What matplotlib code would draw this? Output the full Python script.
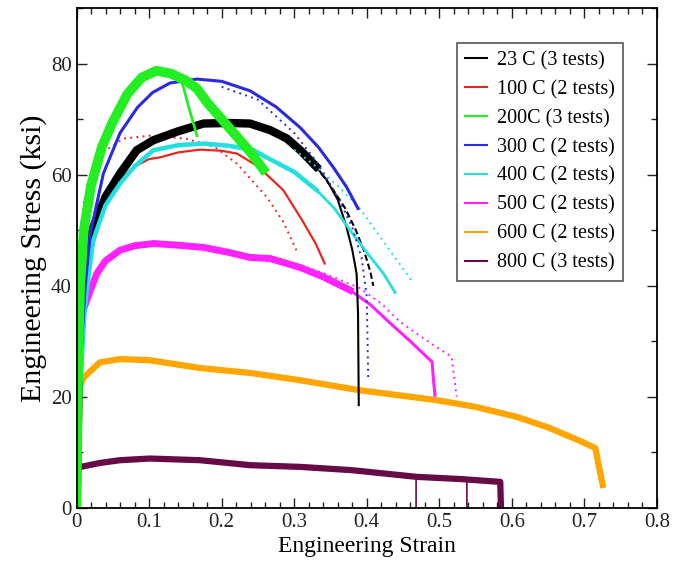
import matplotlib.pyplot as plt
from matplotlib.lines import Line2D
from matplotlib.ticker import MultipleLocator

plt.rcParams["font.family"] = ["Liberation Serif", "DejaVu Serif"]

# --- values (strain, stress in ksi) ---
# 23 C
c23_a_x = [0, 0.004, 0.012, 0.023, 0.04, 0.06, 0.083, 0.106, 0.14, 0.175, 0.21, 0.239, 0.267, 0.29, 0.31, 0.33]
c23_a_y = [0, 30, 43, 50.5, 56, 60.2, 64.4, 66.2, 67.8, 69.2, 69.3, 69.2, 68, 66.5, 64.2, 61.5]
c23_b_x = [0.31, 0.33, 0.345, 0.36, 0.372, 0.38, 0.386, 0.388, 0.389]
c23_b_y = [64.2, 61.5, 59, 55.5, 50.6, 46.5, 42.2, 35, 18.5]
c23_c_x = [0.31, 0.33, 0.35, 0.37, 0.385, 0.397, 0.405, 0.409]
c23_c_y = [64, 61.5, 58, 54, 50, 46, 42.5, 40]
# 100 C
c100_a_x = [0, 0.004, 0.01, 0.02, 0.035, 0.06, 0.075, 0.088, 0.1, 0.115, 0.14, 0.17, 0.2, 0.221, 0.25, 0.285, 0.31, 0.33, 0.342]
c100_a_y = [0, 22, 36, 46, 53, 59, 61, 62, 62.8, 63.1, 64, 64.5, 64.3, 63.8, 61.5, 57.2, 52, 47.5, 44]
c100_b_x = [0, 0.004, 0.01, 0.03, 0.065, 0.1, 0.15, 0.19, 0.221, 0.262, 0.285, 0.303]
c100_b_y = [0, 40, 55, 63.5, 66.5, 67, 66.5, 65, 62, 56, 51.5, 46.4]
# 200 C
c200_a_x = [0, 0.002, 0.005, 0.01, 0.02, 0.035, 0.05, 0.07, 0.09, 0.11, 0.13, 0.15, 0.166, 0.18, 0.21, 0.24, 0.257]
c200_a_y = [0, 25, 40, 50, 58, 65, 69.5, 74.5, 77.5, 78.7, 78.2, 77, 75.5, 73, 68.5, 64, 61]
c200_b_x = [0.13, 0.146, 0.155, 0.166]
c200_b_y = [78, 76.4, 72, 67]
# 300 C
c300_a_x = [0, 0.005, 0.012, 0.019, 0.037, 0.06, 0.084, 0.105, 0.129, 0.166, 0.2, 0.239, 0.275, 0.308, 0.333, 0.354, 0.372, 0.388]
c300_a_y = [0, 25, 40, 49.4, 60.2, 67.5, 72.1, 74.8, 76.5, 77.2, 76.8, 75.1, 72.2, 68.5, 65, 61.3, 57.8, 53.9]
c300_b_x = [0.2, 0.25, 0.3, 0.33, 0.36, 0.38, 0.393, 0.4, 0.402]
c300_b_y = [75.8, 73.5, 67.5, 62.5, 56, 50.5, 45, 38, 23.5]
# 400 C
c400_a_x = [0, 0.005, 0.012, 0.023, 0.04, 0.06, 0.08, 0.106, 0.14, 0.175, 0.21, 0.244, 0.262, 0.3, 0.331]
c400_a_y = [0, 22, 37, 48.2, 54.5, 58.4, 61.5, 64.4, 65.3, 65.6, 65.2, 64.4, 63.1, 60.5, 57.2]
c400_c_x = [0.3, 0.331, 0.355, 0.377, 0.4, 0.423, 0.439]
c400_c_y = [60.5, 57.2, 54, 50, 46, 42.2, 38.8]
c400_b_x = [0.3, 0.33, 0.36, 0.39, 0.42, 0.445, 0.464]
c400_b_y = [64.5, 61.5, 58, 54, 48.5, 44, 40.5]
# 500 C
c500_a_x = [0, 0.002, 0.008, 0.014, 0.028, 0.04, 0.06, 0.08, 0.106, 0.14, 0.175, 0.21, 0.239, 0.267, 0.308, 0.34, 0.377]
c500_a_y = [0, 31.5, 35, 37.4, 42.2, 44.5, 46.4, 47.2, 47.6, 47.3, 46.9, 46, 45.1, 44.9, 43.3, 41.6, 39.2]
c500_c_x = [0.34, 0.377, 0.405, 0.432, 0.46, 0.49, 0.492, 0.494]
c500_c_y = [41.6, 39.2, 36.6, 33.3, 30, 26.3, 23, 20.3]
c500_b_x = [0.3, 0.34, 0.39, 0.42, 0.446, 0.47, 0.49, 0.517, 0.52, 0.524]
c500_b_y = [44, 42.3, 39.6, 36.8, 33.5, 31.3, 29.5, 27.2, 24, 20]
# 600 C
c600_x = [0, 0.001, 0.01, 0.032, 0.06, 0.101, 0.17, 0.24, 0.308, 0.39, 0.497, 0.55, 0.607, 0.65, 0.69, 0.715, 0.72, 0.726]
c600_y = [0, 20.7, 23.5, 26.2, 26.8, 26.6, 25.2, 24.3, 23, 21.2, 19.4, 18.2, 16.4, 14.5, 12.3, 10.8, 7.5, 3.6]
# 800 C
c800_a_x = [0, 0.001, 0.006, 0.032, 0.06, 0.101, 0.17, 0.24, 0.308, 0.38, 0.469, 0.53, 0.584, 0.585]
c800_a_y = [0, 7.2, 7.4, 8.1, 8.6, 8.9, 8.6, 7.7, 7.4, 6.8, 5.6, 5.2, 4.7, 0]
c800_b_x = [0.44, 0.468, 0.468]
c800_b_y = [6.0, 5.6, 0]
c800_c_x = [0.51, 0.538, 0.538]
c800_c_y = [5.4, 5.0, 0]

labels = ["23 C (3 tests)", "100 C (2 tests)", "200C (3 tests)", "300 C (2 tests)",
          "400 C (2 tests)", "500 C (2 tests)", "600 C (2 tests)", "800 C (3 tests)"]
colors = ["#000000", "#e8281e", "#22ee22", "#2a2ae0", "#22e0e0", "#ff22ff", "#ffa500", "#660a48"]
xticks = [0, 0.1, 0.2, 0.3, 0.4, 0.5, 0.6, 0.7, 0.8]
xticklabels = ["0", "0.1", "0.2", "0.3", "0.4", "0.5", "0.6", "0.7", "0.8"]

fig = plt.figure(figsize=(6.85, 5.7), dpi=100)
ax = fig.add_axes([0.1117, 0.1088, 0.8474, 0.8772])

dot = (0, (1, 2.2))

ax.plot(c800_a_x, c800_a_y, color=colors[7], lw=4.5, solid_capstyle="butt")
ax.plot(c800_b_x, c800_b_y, color=colors[7], lw=1.2)
ax.plot(c800_c_x, c800_c_y, color=colors[7], lw=1.2)

ax.plot(c600_x, c600_y, color=colors[6], lw=4.5, solid_capstyle="butt")

ax.plot(c500_a_x, c500_a_y, color=colors[5], lw=5)
ax.plot(c500_c_x, c500_c_y, color=colors[5], lw=2.2)
ax.plot(c500_b_x, c500_b_y, color=colors[5], lw=1.4, ls=dot)

ax.plot(c100_a_x, c100_a_y, color=colors[1], lw=1.6)
ax.plot(c100_b_x, c100_b_y, color=colors[1], lw=1.4, ls=dot)

ax.plot(c23_a_x, c23_a_y, color=colors[0], lw=6)
ax.plot(c23_b_x, c23_b_y, color=colors[0], lw=1.5)
ax.plot(c23_c_x, c23_c_y, color=colors[0], lw=1.5, ls=(0, (3, 1.5)))

ax.plot(c400_a_x, c400_a_y, color=colors[4], lw=3.2)
ax.plot(c400_c_x, c400_c_y, color=colors[4], lw=2)
ax.plot(c400_b_x, c400_b_y, color=colors[4], lw=1.4, ls=dot)

ax.plot(c300_a_x, c300_a_y, color=colors[3], lw=2.2)
ax.plot(c300_b_x, c300_b_y, color=colors[3], lw=1.4, ls=dot)

ax.plot(c200_a_x, c200_a_y, color=colors[2], lw=7)
ax.plot(c200_b_x, c200_b_y, color=colors[2], lw=2)

ax.set_xlim(0, 0.8)
ax.set_ylim(0, 90)
ax.set_xticks(xticks)
ax.set_xticklabels(xticklabels)
ax.xaxis.set_minor_locator(MultipleLocator(0.02))
ax.yaxis.set_major_locator(MultipleLocator(20))
ax.yaxis.set_minor_locator(MultipleLocator(10))
ax.tick_params(which="both", direction="in", top=True, right=True, labelsize=15, colors="#222222")
ax.tick_params(which="major", length=7, width=1)
ax.tick_params(which="minor", length=4, width=1)
for s in ax.spines.values():
    s.set_linewidth(1.3)

ax.set_xlabel("Engineering Strain", fontsize=17, labelpad=3)
ax.set_ylabel("Engineering Stress (ksi)", fontsize=21.5, labelpad=3)

handles = [Line2D([], [], color=c, lw=1.5) for c in colors]
leg = ax.legend(handles, labels, loc="upper right", bbox_to_anchor=(0.941, 0.93),
                borderaxespad=0, fontsize=14.5, handlelength=1.1, handletextpad=0.5,
                labelspacing=0.48, borderpad=0.4, fancybox=False, framealpha=1,
                edgecolor="#555555")
leg.get_frame().set_linewidth(1.2)

fig.savefig("out.png", dpi=100)
